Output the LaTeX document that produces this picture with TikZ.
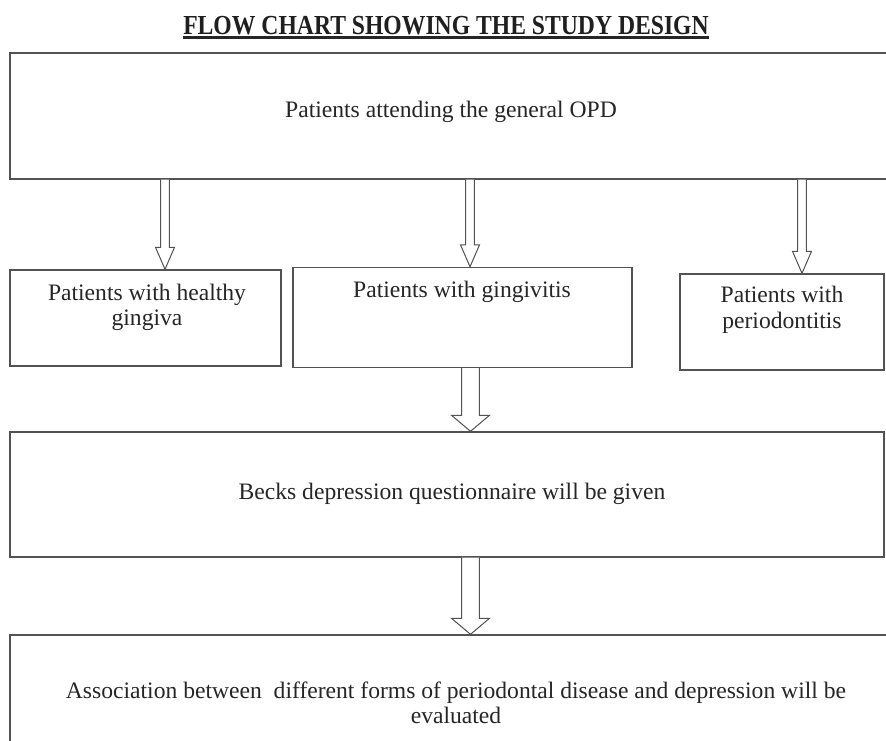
\documentclass[tikz,border=0pt]{standalone}
\usepackage{fontspec}
\setmainfont{Liberation Serif}
\newfontfamily\titlefont[FakeStretch=0.86]{Liberation Serif}
\usetikzlibrary{calc}
\newcommand\hollowarrow[5]{% start, end, shaft half-width, head half-width, head length
  \draw[harrow] ($(#1)+(-#3,0)$) -- ($(#2)+(-#3,-#5)$) -- ($(#2)+(-#4,-#5)$) -- (#2)
    -- ($(#2)+(#4,-#5)$) -- ($(#2)+(#3,-#5)$) -- ($(#1)+(#3,0)$);}
\begin{document}
\begin{tikzpicture}[x=1pt,y=-1pt,
  box/.style={draw=black!68, line width=1.4pt, inner sep=0pt},
  txt/.style={font=\fontsize{23.6}{25.5}\selectfont, text=black!85, align=center, inner sep=0pt},
  titletxt/.style={font=\titlefont\fontsize{27.5}{30}\selectfont\bfseries, text=black!88, inner sep=0pt},
  harrow/.style={draw=black!68, line width=1pt, fill=white, line join=miter}]
\useasboundingbox (0,0) rectangle (886,740);
\clip (0,0) rectangle (886,740);
\fill[white] (0,0) rectangle (886,740);

% title
\node[titletxt, anchor=base] (title) at (446,34) {FLOW CHART SHOWING THE STUDY DESIGN};
\draw[black!85, line width=2.6pt] ([yshift=-3.5pt]title.base west) -- ([yshift=-3.5pt]title.base east);

% boxes
\node[box, minimum width=878pt, minimum height=126pt] (top) at (449,116) {};
\node[box, minimum width=271pt, minimum height=96pt] (a) at (145.5,318) {};
\node[box, minimum width=339pt, minimum height=100pt] (b) at (462.5,317.5) {};
\node[box, minimum width=204pt, minimum height=96pt] (c) at (782,322) {};
\node[box, minimum width=874pt, minimum height=125pt] (d) at (447,494.5) {};
\node[box, minimum width=878pt, minimum height=130pt] (e) at (449,700) {};

% texts
\node[txt, anchor=base] (t0) at (451,117) {Patients attending the general OPD};
\node[txt] (ta) at (147,307.5) {Patients with healthy\\gingiva};
\node[txt, anchor=base] (tb) at (462,297) {Patients with gingivitis};
\node[txt] (tc) at (782,310) {Patients with\\periodontitis};
\node[txt, anchor=base] (td) at (452,499) {Becks depression questionnaire will be given};
\node[txt] (te) at (456,703) {Association between\ \ different forms of periodontal disease and depression will be\\evaluated};

% arrow columns
\coordinate (x1) at (165,0);
\coordinate (x2) at (470,0);
\coordinate (x3) at (802,0);
\coordinate (x4) at (470.5,0);

\hollowarrow{top.south -| x1}{a.north -| x1}{4.3}{9.5}{22}
\hollowarrow{top.south -| x2}{b.north -| x2}{4.3}{9.5}{22}
\hollowarrow{top.south -| x3}{c.north -| x3}{4.3}{9.5}{22}
\hollowarrow{b.south -| x4}{d.north -| x4}{8.8}{19}{16}
\hollowarrow{d.south -| x4}{e.north -| x4}{8.8}{19}{16}
\end{tikzpicture}
\end{document}
